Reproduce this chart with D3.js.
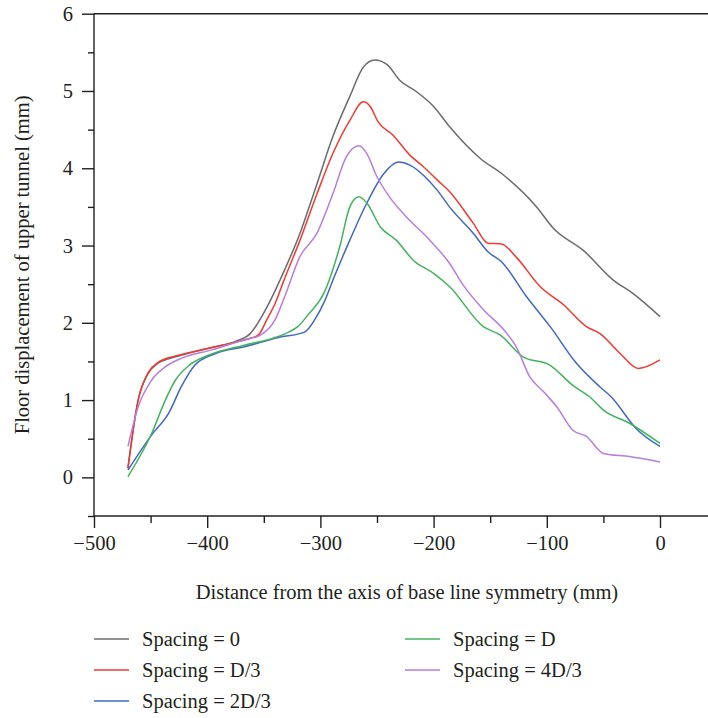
<!DOCTYPE html>
<html>
<head>
<meta charset="utf-8">
<script src="https://cdn.jsdelivr.net/npm/d3@7"></script>
<style>
  html, body { margin: 0; padding: 0; background: #fff; }
  svg { display: block; }
  text { font-family: "Liberation Serif", "Times New Roman", serif; fill: #231f20; }
</style>
</head>
<body>
<svg id="chart" width="708" height="718"></svg>
<script>
// Floor displacement (mm) against distance from the symmetry axis (mm)
const spacing0 = [
  [-470, 0.12], [-461, 1.0], [-452, 1.35], [-443, 1.48], [-428, 1.56], [-411, 1.63],
  [-393, 1.69], [-375, 1.76], [-362, 1.86], [-347, 2.21], [-333, 2.64], [-318, 3.16],
  [-303, 3.80], [-289, 4.41], [-274, 4.93], [-262, 5.31], [-252, 5.40], [-241, 5.34],
  [-230, 5.14], [-215, 4.99], [-200, 4.80], [-186, 4.54], [-159, 4.13], [-138, 3.91],
  [-109, 3.50], [-94, 3.22], [-68, 2.94], [-41, 2.55], [-24, 2.38], [0, 2.08]
];
const spacingD3 = [
  [-470, 0.12], [-461, 1.0], [-452, 1.36], [-443, 1.49], [-428, 1.57], [-411, 1.63],
  [-393, 1.69], [-375, 1.75], [-362, 1.80], [-355, 1.84], [-347, 2.05], [-340, 2.25],
  [-333, 2.52], [-318, 3.07], [-303, 3.67], [-289, 4.19], [-274, 4.62], [-262, 4.86],
  [-256, 4.80], [-249, 4.60], [-236, 4.43], [-221, 4.17], [-209, 4.02], [-197, 3.85],
  [-186, 3.70], [-165, 3.29], [-152, 3.03], [-140, 3.02], [-127, 2.85], [-106, 2.47],
  [-85, 2.23], [-65, 1.95], [-53, 1.86], [-35, 1.60], [-19, 1.41], [0, 1.52]
];
const spacing2D3 = [
  [-470, 0.095], [-449, 0.55], [-434, 0.83], [-423, 1.17], [-411, 1.45], [-393, 1.60],
  [-367, 1.69], [-337, 1.81], [-314, 1.88], [-305, 2.04], [-296, 2.29], [-289, 2.55],
  [-274, 3.07], [-259, 3.55], [-244, 3.93], [-231, 4.08], [-221, 4.04], [-209, 3.91],
  [-197, 3.72], [-186, 3.50], [-165, 3.16], [-152, 2.92], [-140, 2.79], [-118, 2.34],
  [-97, 1.95], [-74, 1.48], [-53, 1.17], [-43, 1.04], [-21, 0.63], [0, 0.40]
];
const spacingD = [
  [-470, 0.01], [-449, 0.57], [-437, 1.0], [-428, 1.26], [-416, 1.45], [-399, 1.58],
  [-367, 1.71], [-340, 1.81], [-328, 1.88], [-320, 1.95], [-310, 2.12], [-297, 2.38],
  [-283, 2.98], [-274, 3.50], [-266, 3.63], [-259, 3.55], [-247, 3.24], [-233, 3.07],
  [-218, 2.81], [-200, 2.64], [-186, 2.47], [-156, 1.95], [-141, 1.84], [-121, 1.56],
  [-97, 1.45], [-77, 1.19], [-62, 1.04], [-50, 0.87], [-27, 0.70], [0, 0.44]
];
const spacing4D3 = [
  [-470, 0.40], [-461, 0.91], [-449, 1.26], [-437, 1.43], [-423, 1.54], [-396, 1.65],
  [-367, 1.78], [-353, 1.84], [-340, 2.04], [-332, 2.32], [-318, 2.86], [-303, 3.16],
  [-289, 3.67], [-277, 4.15], [-266, 4.29], [-259, 4.19], [-250, 3.89], [-239, 3.63],
  [-224, 3.37], [-206, 3.11], [-186, 2.77], [-174, 2.49], [-156, 2.17], [-138, 1.91],
  [-127, 1.69], [-115, 1.30], [-103, 1.11], [-91, 0.91], [-77, 0.61], [-65, 0.53],
  [-50, 0.31], [-27, 0.27], [0, 0.20]
];

const seriesNames = ["Spacing = 0", "Spacing = D/3", "Spacing = 2D/3", "Spacing = D", "Spacing = 4D/3"];
const seriesData = [spacing0, spacingD3, spacing2D3, spacingD, spacing4D3];
const seriesColors = ["#6b6b6b", "#ee3a32", "#3f68c2", "#43b35d", "#b77ede"];

const xMajorTicks = [-500, -400, -300, -200, -100, 0];
const xMinorTicks = [-450, -350, -250, -150, -50];
const yMajorTicks = [0, 1, 2, 3, 4, 5, 6];
const yMinorTicks = [-0.5, 0.5, 1.5, 2.5, 3.5, 4.5, 5.5];

const xTitle = "Distance from the axis of base line symmetry (mm)";
const yTitle = "Floor displacement of upper tunnel (mm)";

const W = 708;
const svg = d3.select("#chart");
const plot = { left: 94, right: 660, top: 13.7, bottom: 516 };
const fontSize = 20.5;
const tickFontSize = 20.5;

const x = d3.scaleLinear().domain([-500, 0]).range([plot.left, plot.right]);
const y = d3.scaleLinear().domain([-0.5, 6]).range([plot.bottom, plot.top]);

const axisColor = "#231f20";

// frame lines: left axis, bottom axis and top rule run to the page edge
const frame = svg.append("g").attr("stroke", axisColor).attr("stroke-width", 1.4).attr("fill", "none");
frame.append("line").attr("x1", plot.left).attr("x2", plot.left).attr("y1", y(6)).attr("y2", y(-0.5));
frame.append("line").attr("x1", plot.left).attr("x2", W).attr("y1", y(-0.5)).attr("y2", y(-0.5));
frame.append("line").attr("x1", plot.left).attr("x2", W).attr("y1", y(6)).attr("y2", y(6));

// x axis
const gx = svg.append("g").attr("transform", `translate(0,${plot.bottom})`);
gx.call(d3.axisBottom(x).tickValues(xMajorTicks).tickSize(12).tickPadding(7)
  .tickFormat(d => d3.format("d")(d).replace("-", "\u2013")));
gx.append("g").call(d3.axisBottom(x).tickValues(xMinorTicks).tickSize(7).tickFormat(""));
gx.selectAll(".domain").remove();

// y axis
const gy = svg.append("g").attr("transform", `translate(${plot.left},0)`);
gy.call(d3.axisLeft(y).tickValues(yMajorTicks).tickSize(12).tickPadding(9).tickFormat(d3.format("d")));
gy.append("g").call(d3.axisLeft(y).tickValues(yMinorTicks).tickSize(6).tickFormat(""));
gy.selectAll(".domain").remove();

svg.selectAll(".tick line").attr("stroke", axisColor).attr("stroke-width", 1.4);
svg.selectAll(".tick text")
  .attr("font-family", "Liberation Serif, serif")
  .attr("font-size", tickFontSize)
  .attr("fill", axisColor);

// axis titles
svg.append("text")
  .attr("x", 407).attr("y", 599)
  .attr("text-anchor", "middle")
  .attr("font-size", fontSize)
  .text(xTitle);

svg.append("text")
  .attr("transform", `translate(29,${(plot.top + plot.bottom) / 2}) rotate(-90)`)
  .attr("text-anchor", "middle")
  .attr("font-size", fontSize)
  .text(yTitle);

// curves
const line = d3.line()
  .x(d => x(d[0]))
  .y(d => y(d[1]))
  .curve(d3.curveMonotoneX);

svg.append("g").selectAll("path")
  .data(seriesData)
  .join("path")
  .attr("d", line)
  .attr("fill", "none")
  .attr("stroke", (d, i) => seriesColors[i])
  .attr("stroke-width", 1.5);

// legend, two columns
const legendCols = [94, 405];
const legendRows = [639, 670, 701];
const legendItems = seriesNames.map((name, i) => ({
  name, color: seriesColors[i],
  cx: legendCols[i < 3 ? 0 : 1], cy: legendRows[i < 3 ? i : i - 3]
}));
const lg = svg.append("g");
const item = lg.selectAll("g").data(legendItems).join("g")
  .attr("transform", d => `translate(${d.cx},${d.cy})`);
item.append("line")
  .attr("x1", 0).attr("x2", 35).attr("y1", 0).attr("y2", 0)
  .attr("stroke", d => d.color).attr("stroke-width", 2).attr("stroke-opacity", 0.75);
item.append("text")
  .attr("x", 48).attr("y", 6.5)
  .attr("font-size", fontSize)
  .text(d => d.name);
</script>
</body>
</html>
